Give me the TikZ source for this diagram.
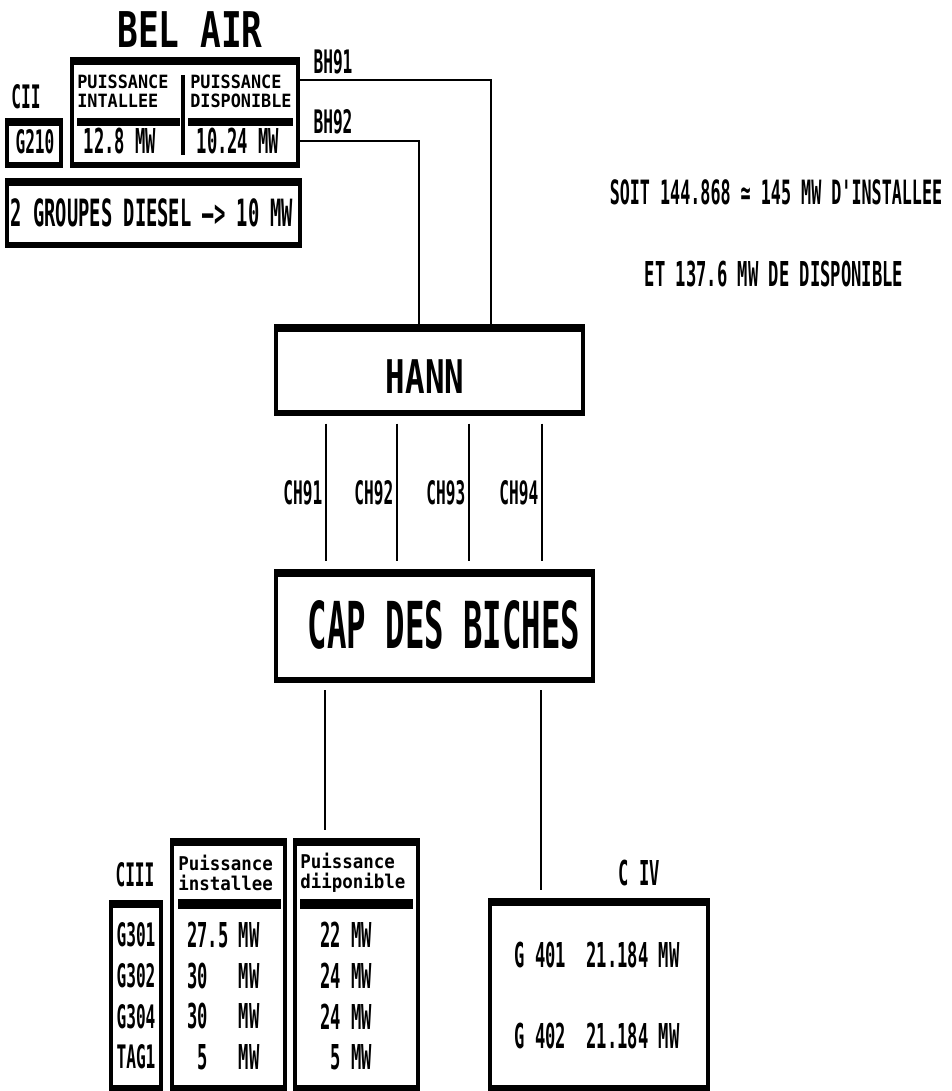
\documentclass[tikz,border=0pt]{standalone}
\usepackage{fontspec}
\newfontfamily\dosA[FakeStretch=0.70]{DejaVu Sans Mono}
\newfontfamily\dosB[FakeStretch=0.50]{DejaVu Sans Mono}
\newfontfamily\dosC[FakeStretch=0.92]{DejaVu Sans Mono}
\newcommand{\fsz}[2]{\fontsize{#1}{#2}\selectfont}
\tikzset{
  panel/.style n args={2}{draw, line width=2.8pt, inner sep=0pt, minimum width=#1*0.025cm, minimum height=#2*0.025cm},
}
\begin{document}
\begin{tikzpicture}[
        x=0.025cm, y=-0.025cm,
        link/.style={line width=1.1pt},
        big/.style={inner sep=0pt, font=\dosA\bfseries\fsz{35}{35}},
        tag/.style={inner sep=0pt, font=\dosB\bfseries\fsz{23}{23}},
        val/.style={inner sep=0pt, font=\dosB\bfseries\fsz{24.4}{24.4}},
        head/.style={inner sep=0pt, align=left, font=\dosC\bfseries\fsz{13}{13.5}}
        ]
      \useasboundingbox (0,0) rectangle (952,1091);

      % boxes
      \node[panel={226}{107}] (belair) at (185,112.5) {};
      \node[panel={54}{46}] (g210) at (34,143) {};
      \node[panel={293}{66}] (diesel) at (153.5,213) {};
      \node[panel={307}{88}] (hann) at (429.5,370) {};
      \node[panel={317}{110}] (cap) at (434.5,626) {};
      \node[panel={50}{187}] (ciii) at (136,995.5) {};
      \node[panel={113}{249}] (inst) at (228.5,964.5) {};
      \node[panel={123}{249}] (disp) at (356.5,964.5) {};
      \node[panel={218}{189}] (civ) at (599,994.5) {};
      \foreach \n in {belair,g210,diesel,hann,cap,ciii,inst,disp,civ} {
        \fill (\n.north west) rectangle ([yshift=-5.5pt]\n.north east);
        \fill (\n.south west) rectangle ([yshift=4.5pt]\n.south east);
      }

      % BEL AIR
      \node[big] (tbelair) at (190,30) {BEL AIR};
      \node[tag] (tcii) at (26,97) {CII};
      \node[tag] (tg210) at (35,142) {G210};
      \node[head, anchor=west] (hinst) at (77,91) {PUISSANCE\\INTALLEE};
      \node[head, anchor=west] (hdisp) at (190,91) {PUISSANCE\\DISPONIBLE};
      \fill (77,118) rectangle (180,126);
      \fill (188,118) rectangle (293,126);
      \draw[line width=2.2pt] (183,75) -- (183,155);
      \node[val] (vinst) at (120,141) {12.8 MW};
      \node[val] (vdisp) at (238,141) {10.24 MW};
      \node[inner sep=0pt, font=\dosB\bfseries\fsz{26.7}{26.7}] (tdiesel) at (152,213) {2 GROUPES DIESEL —> 10 MW};

      % totals
      \node[inner sep=0pt, font=\dosB\bfseries\fsz{23.8}{23.8}] (soit) at (776,192) {SOIT 144.868 ≃ 145 MW D'INSTALLEE};
      \node[inner sep=0pt, font=\dosB\bfseries\fsz{24.4}{24.4}] (et) at (774,274) {ET 137.6 MW DE DISPONIBLE};

      % BH lines
      \node[tag] (lbh91) at (333,62) {BH91};
      \node[tag] (lbh92) at (333,122) {BH92};
      \coordinate (bh91) at (491,80);
      \coordinate (bh92) at (419,141);
      \draw[link] (bh91 -| belair.east) -- (bh91) -- (bh91 |- hann.north);
      \draw[link] (bh92 -| belair.east) -- (bh92) -- (bh92 |- hann.north);

      % HANN and CAP DES BICHES
      \node[big, font=\dosA\bfseries\fsz{33}{33}] (thann) at (425,377) {HANN};
      \node[inner sep=0pt, font=\dosB\bfseries\fsz{46}{46}] (tcap) at (444,625) {CAP DES BICHES};
      \foreach \x/\n in {326/1,397/2,469/3,542/4} {
        \coordinate (ch\n) at (\x,0);
        \draw[link, shorten <=5.5pt, shorten >=5.5pt] (ch\n |- hann.south) -- node[tag, anchor=east, xshift=-2pt] {CH9\n} (ch\n |- cap.north);
      }
      \coordinate (capl) at (325,0);
      \coordinate (capr) at (541,0);
      \draw[link, shorten <=5pt, shorten >=5.5pt] (capl |- cap.south) -- (capl |- disp.north);
      \draw[link, shorten <=5pt, shorten >=5.5pt] (capr |- cap.south) -- (capr |- civ.north);

      % C III
      \node[tag] (tciii) at (135,875) {CIII};
      \node[head, anchor=west, font=\dosC\bfseries\fsz{13.5}{14}] (hpi) at (178,873) {Puissance\\installee};
      \node[head, anchor=west, font=\dosC\bfseries\fsz{13.5}{14}] (hpd) at (300,873) {Puissance\\diiponible};
      \fill (178,899) rectangle (281,909);
      \fill (300,899) rectangle (413,909);
      \foreach \g/\a/\b [count=\i] in {G301/{27.5 MW}/{22 MW}, G302/{30\phantom{.5} MW}/{24 MW}, G304/{30\phantom{.5} MW}/{24 MW}, TAG1/{\phantom{2}5\phantom{.5} MW}/{\phantom{2}5 MW}} {
        \node[tag] (g\i) at (136,935+40.7*\i-40.7) {\g};
        \node[val, anchor=west] (pi\i) at (187,935+40.7*\i-40.7) {\a};
        \node[val, anchor=west] (pd\i) at (320,935+40.7*\i-40.7) {\b};
      }

      % C IV
      \node[val] (tciv) at (639,873) {C IV};
      \node[val] (g401) at (597,955) {G 401\ \ 21.184 MW};
      \node[val] (g402) at (597,1036) {G 402\ \ 21.184 MW};

    \end{tikzpicture}
\end{document}
